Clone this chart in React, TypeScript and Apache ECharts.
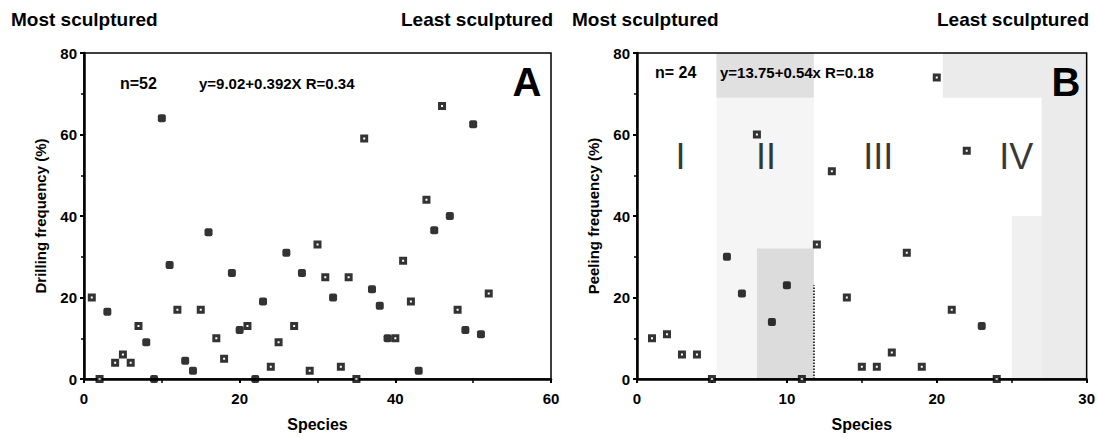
import React, { useEffect, useRef } from 'react';
import * as echarts from 'echarts';

// Panel A: drilling frequency (%) per species, 1..52
const drillingFreq = [20, 0, 16.5, 4, 6, 4, 13, 9, 0, 64, 28, 17, 4.5, 2, 17, 36, 10, 5, 26, 12, 13, 0, 19, 3, 9, 31, 13, 26, 2, 33, 25, 20, 3, 25, 0, 59, 22, 18, 10, 10, 29, 19, 2, 44, 36.5, 67, 40, 17, 12, 62.5, 11, 21];
const drillingSolid = [0, 0, 1, 0, 0, 0, 0, 1, 1, 1, 1, 0, 1, 1, 0, 1, 0, 0, 1, 1, 0, 1, 1, 0, 0, 1, 0, 1, 0, 0, 0, 1, 0, 0, 0, 0, 1, 1, 1, 0, 0, 0, 1, 0, 1, 0, 1, 0, 1, 1, 1, 0];

// Panel B: peeling frequency (%) per species, 1..24
const peelingFreq = [10, 11, 6, 6, 0, 30, 21, 60, 14, 23, 0, 33, 51, 20, 3, 3, 6.5, 31, 3, 74, 17, 56, 13, 0];
const peelingSolid = [0, 0, 0, 0, 0, 1, 1, 0, 1, 1, 0, 0, 0, 0, 0, 0, 0, 0, 0, 0, 0, 0, 1, 0];

// Group numerals in panel B (data coordinates)
const groupNames = ['I', 'II', 'III', 'IV'];
const groupX = [2.9, 8.6, 16.1, 25.3];
const groupY = [54.5, 54.5, 54.5, 54.5];

// Stippled regions in panel B: [x1, y1, x2, y2]
const shadeRegions = [
  [5.3, 0, 11.8, 69],
  [8, 0, 11.8, 32],
  [5.3, 69, 11.8, 80],
  [20.4, 69, 27, 80],
  [27, 0, 30, 80],
  [25, 0, 27, 40],
];
const shadeAlpha = [0.04, 0.1, 0.12, 0.08, 0.08, 0.06];
const dividerX = 11.8;
const dividerTop = 23;

// Axis ticks
const axisAX = { min: 0, max: 60, interval: 20 };
const axisBX = { min: 0, max: 30, interval: 10 };
const axisY = { min: 0, max: 80, interval: 20 };

const FONT = '"Liberation Sans", Arial, Helvetica, sans-serif';

function pts(vals: number[], solid: number[], want: number) {
  const out: number[][] = [];
  vals.forEach((v, i) => {
    if (solid[i] === want) out.push([i + 1, v]);
  });
  return out;
}

function xAxisCfg(gridIndex: number, ax: { min: number; max: number; interval: number }) {
  return {
    gridIndex,
    type: 'value',
    min: ax.min,
    max: ax.max,
    interval: ax.interval,
    name: 'Species',
    nameLocation: 'middle',
    nameGap: 37,
    nameTextStyle: { fontFamily: FONT, fontWeight: 'bold', fontSize: 16, color: '#000' },
    axisLine: { show: true, onZero: false, lineStyle: { color: '#000', width: 2.5 } },
    axisTick: { show: true, length: 4, lineStyle: { color: '#000', width: 2 } },
    minorTick: { show: true, splitNumber: 2, length: 4, lineStyle: { color: '#000', width: 1.5 } },
    splitLine: { show: false },
    axisLabel: { margin: 12, fontFamily: FONT, fontWeight: 'bold', fontSize: 15, color: '#000' },
  };
}

function yAxisCfg(gridIndex: number, name: string) {
  return {
    gridIndex,
    type: 'value',
    min: axisY.min,
    max: axisY.max,
    interval: axisY.interval,
    name,
    nameLocation: 'middle',
    nameGap: 36,
    nameTextStyle: { fontFamily: FONT, fontWeight: 'bold', fontSize: 15, color: '#000' },
    axisLine: { show: true, onZero: false, lineStyle: { color: '#000', width: 2.5 } },
    axisTick: { show: true, length: 4, lineStyle: { color: '#000', width: 2 } },
    minorTick: { show: true, splitNumber: 2, length: 3, lineStyle: { color: '#000', width: 1.5 } },
    splitLine: { show: false },
    axisLabel: { margin: 7, fontFamily: FONT, fontWeight: 'bold', fontSize: 15, color: '#000' },
  };
}

const openStyle = { color: '#fff', borderColor: '#000', borderWidth: 3 };
const solidStyle = { color: '#000' };

export default function App() {
  const ref = useRef<HTMLDivElement>(null);
  useEffect(() => {
    if (!ref.current) return;
    const chart = echarts.init(ref.current, undefined, { renderer: 'svg' });
    const txt = (text: string, x: number, y: number, size: number, align = 'left', weight = 'bold') => ({
      type: 'text',
      x,
      y,
      silent: true,
      style: { text, fill: '#000', font: `${weight} ${size}px ${FONT}`, align, verticalAlign: 'middle' },
    });
    chart.setOption({
      animation: false,
      backgroundColor: '#fff',
      grid: [
        { left: 84, top: 53, width: 467, height: 332, show: true, borderColor: '#000', borderWidth: 1.5, backgroundColor: 'transparent' },
        { left: 637, top: 53, width: 454, height: 332, show: true, borderColor: '#000', borderWidth: 1.5, backgroundColor: 'transparent' },
      ],
      xAxis: [xAxisCfg(0, axisAX), xAxisCfg(1, axisBX)],
      yAxis: [yAxisCfg(0, 'Drilling frequency (%)'), yAxisCfg(1, 'Peeling frequency (%)')],
      series: [
        {
          type: 'scatter',
          xAxisIndex: 1,
          yAxisIndex: 1,
          symbolSize: 0,
          silent: true,
          data: groupNames.map((n, i) => ({ value: [groupX[i], groupY[i]], name: n })),
          label: { show: true, position: 'inside', formatter: '{b}', fontFamily: FONT, fontSize: 36, color: '#000' },
          markArea: {
            silent: true,
            data: shadeRegions.map((r, i) => [
              { coord: [r[0], r[1]], itemStyle: { color: `rgba(0,0,0,${shadeAlpha[i]})` } },
              { coord: [r[2], r[3]] },
            ]),
          },
          markLine: {
            silent: true,
            symbol: 'none',
            label: { show: false },
            lineStyle: { color: '#000', type: 'dotted', width: 1.5 },
            data: [[{ coord: [dividerX, 0] }, { coord: [dividerX, dividerTop] }]],
          },
          z: 1,
        },
        { type: 'scatter', xAxisIndex: 0, yAxisIndex: 0, symbol: 'rect', symbolSize: 5, itemStyle: openStyle, data: pts(drillingFreq, drillingSolid, 0), z: 5 },
        { type: 'scatter', xAxisIndex: 0, yAxisIndex: 0, symbol: 'roundRect', symbolSize: 8, itemStyle: solidStyle, data: pts(drillingFreq, drillingSolid, 1), z: 5 },
        { type: 'scatter', xAxisIndex: 1, yAxisIndex: 1, symbol: 'rect', symbolSize: 5, itemStyle: openStyle, data: pts(peelingFreq, peelingSolid, 0), z: 5 },
        { type: 'scatter', xAxisIndex: 1, yAxisIndex: 1, symbol: 'roundRect', symbolSize: 8, itemStyle: solidStyle, data: pts(peelingFreq, peelingSolid, 1), z: 5 },
      ],
      graphic: [
        txt('Most sculptured', 11, 19, 19),
        txt('Least sculptured', 553, 19, 19, 'right'),
        txt('Most sculptured', 572, 19, 19),
        txt('Least sculptured', 1089, 19, 19, 'right'),
        txt('n=52', 120, 83, 16),
        txt('y=9.02+0.392X R=0.34', 199, 83, 15),
        txt('A', 527, 82, 40, 'center'),
        txt('n= 24', 655, 72, 16),
        txt('y=13.75+0.54x R=0.18', 720, 72, 15),
        txt('B', 1066, 82, 40, 'center'),
      ],
    });
    return () => chart.dispose();
  }, []);
  return <div ref={ref} style={{ position: 'fixed', left: 0, top: 0, width: 1098, height: 437, background: '#fff' }} />;
}
